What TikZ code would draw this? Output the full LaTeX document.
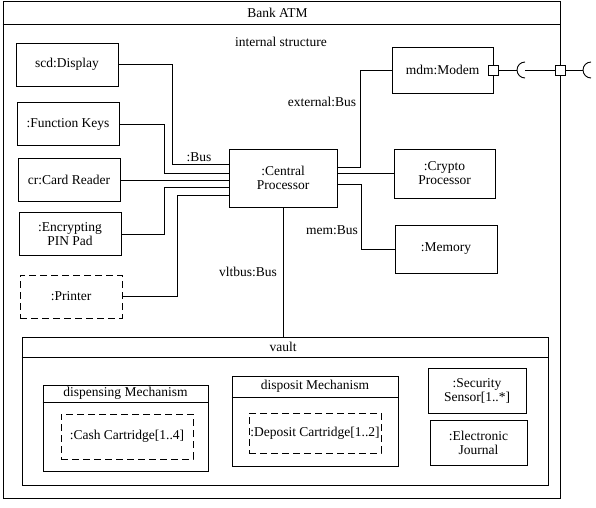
\documentclass[tikz,border=0pt]{standalone}
\usepackage{fontspec}
\setmainfont{Liberation Serif}
\usepackage{tikz}
\usetikzlibrary{calc}
\tikzstyle{frame}=[draw,inner sep=0]
\tikzstyle{part}=[draw,align=center,inner sep=1pt,minimum width=102pt,minimum height=43pt]
\tikzstyle{dpart}=[part,dash pattern=on 7pt off 4pt]
\tikzstyle{port}=[draw,fill=white,inner sep=0,minimum size=10pt]

\begin{document}
\begin{tikzpicture}[x=1pt,y=-1pt,line width=0.9pt,font=\fontsize{13.5}{14}\selectfont]
\useasboundingbox (0,0) rectangle (596,507);

% outer frame
\node[frame,minimum width=557pt,minimum height=497pt] (atm) at (281.5,249.5) {};
\draw ($(atm.north west)+(0,24)$) -- ($(atm.north east)+(0,24)$);
\node[] (atmname) at ($(atm.north)+(-4,12)$) {Bank ATM};
\node[] (inner) at (281,42) {internal structure};

\node[part] (disp) at (67,64.5) {scd:Display};
\node[part] (fkeys) at (68,124) {:Function Keys};
\node[part] (card) at (69,180) {cr:Card Reader};
\node[part] (pin) at (70,234) {:Encrypting\\PIN Pad};
\node[dpart] (printer) at (71,296.5) {:Printer};

\node[part,minimum width=108pt,minimum height=58pt] (cpu) at (283,178) {:Central\\Processor};
\node[part,minimum width=101pt,minimum height=46pt] (modem) at (442.5,70) {mdm:Modem};
\node[part,minimum width=101pt,minimum height=49pt] (crypto) at (444.5,173.5) {:Crypto\\Processor};
\node[part,minimum height=48pt] (mem) at (446,249) {:Memory};

\draw (disp.east) -- ++(54,0) |- ($(cpu.north west)+(0,16)$);
\draw (fkeys.east) -- ++(45,0) |- ($(cpu.north west)+(0,25)$);
\draw (card.east) -- (card.east -| cpu.west);
\draw (pin.east) -- ++(43,0) |- ($(cpu.north west)+(0,39)$);
\draw (printer.east) -- ++(55,0) |- ($(cpu.north west)+(0,47)$);
\node[] (busl) at (199,157) {:Bus};

\draw ($(cpu.north east)+(0,19)$) -- ++(23,0) |- (modem.west);
\draw (cpu.east |- crypto.west) -- (crypto.west);
\draw ($(cpu.north east)+(0,36)$) -- ++(24,0) |- (mem.west);
\node[] (extl) at (322,102) {external:Bus};
\node[] (meml) at (332,230) {mem:Bus};

% ports and sockets
\node[port] (mport) at (modem.east) {};
\node[port] (aport) at (atm.east |- mport) {};
\coordinate (sock1) at (525,70);
\coordinate (sock2) at (591,70);
\draw (mport.east) -- ($(sock1)+(-8,0)$);
\draw ($(sock1)+(0,-8)$) arc[start angle=90,end angle=270,radius=8pt];
\draw (sock1) -- (aport.west);
\draw (aport.east) -- ($(sock2)+(-8,0)$);
\draw ($(sock2)+(0,-8)$) arc[start angle=90,end angle=270,radius=8pt];

% vault
\node[frame,minimum width=526pt,minimum height=148pt] (vault) at (285,411) {};
\draw ($(vault.north west)+(0,21)$) -- ($(vault.north east)+(0,21)$);
\node[] (vaultname) at ($(vault.north)+(-2,10)$) {vault};
\draw (cpu.south) -- (cpu.south |- vault.north);
\node[] (vltl) at (248,272) {vltbus:Bus};

\node[frame,minimum width=165pt,minimum height=86pt] (dispm) at (125.5,428) {};
\draw ($(dispm.north west)+(0,18)$) -- ($(dispm.north east)+(0,18)$);
\node[] (dispmname) at ($(dispm.north)+(0,9)$) {dispensing Mechanism};
\node[dpart,minimum width=132pt,minimum height=45pt] (cash) at (127,436.5) {:Cash Cartridge[1..4]};

\node[frame,minimum width=166pt,minimum height=90pt] (depm) at (315,421) {};
\draw ($(depm.north west)+(0,22)$) -- ($(depm.north east)+(0,22)$);
\node[] (depmname) at ($(depm.north)+(0,11)$) {disposit Mechanism};
\node[dpart,minimum width=132pt,minimum height=40pt] (depc) at (315,433) {:Deposit Cartridge[1..2]};

\node[part,minimum width=98pt,minimum height=45pt] (sensor) at (477,390.5) {:Security\\Sensor[1..*]};
\node[part,minimum width=97pt,minimum height=45pt] (journal) at (478.5,442.5) {:Electronic\\Journal};
\end{tikzpicture}
\end{document}
